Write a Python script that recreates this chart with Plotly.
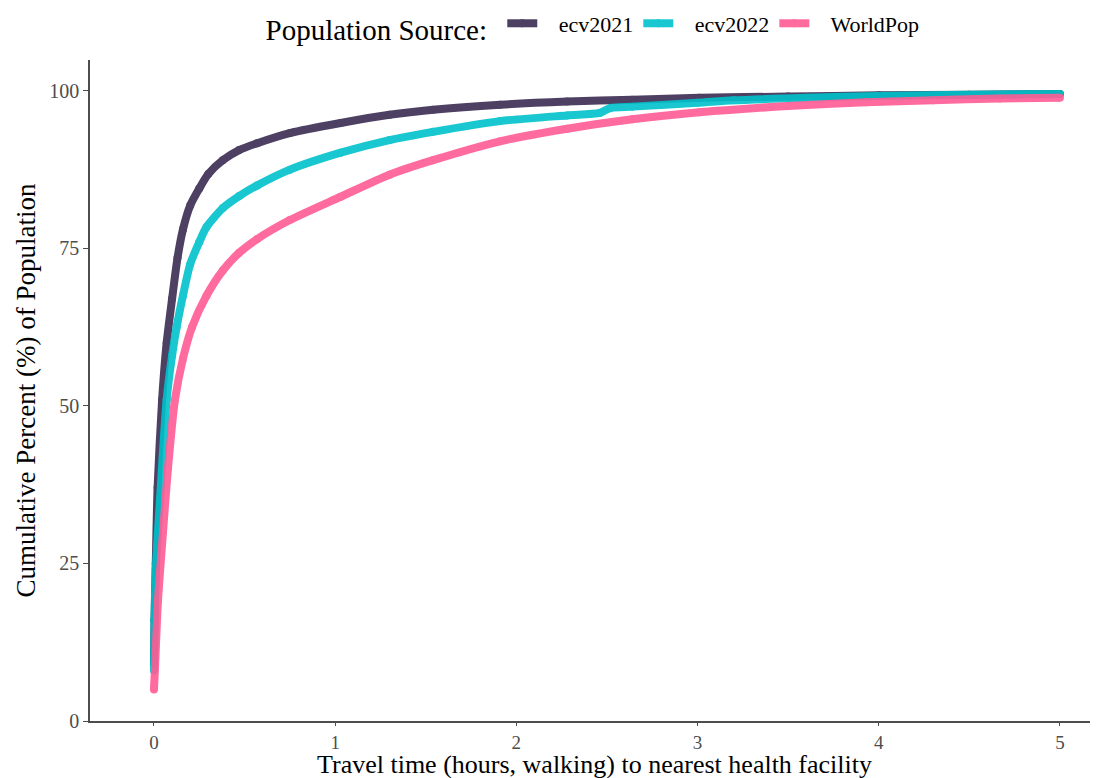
import plotly.graph_objects as go

# Travel time (hours) and cumulative percent of population
ecv2021_hours = [0, 0.003, 0.01, 0.02, 0.045, 0.07, 0.1, 0.13, 0.16, 0.2, 0.25, 0.3, 0.38, 0.47,
                 0.57, 0.75, 1.03, 1.3, 1.54, 1.91, 2.28, 2.64, 3.01, 3.5, 4.0, 4.5, 5.0]
ecv2021_pct = [9, 16, 25, 37, 51, 60, 67, 73.5, 78, 81.8, 84.5, 86.8, 89, 90.6,
               91.7, 93.3, 94.9, 96.2, 97.0, 97.8, 98.3, 98.6, 98.9, 99.1, 99.3, 99.4, 99.5]

ecv2022_hours = [0, 0.003, 0.01, 0.033, 0.07, 0.1, 0.125, 0.16, 0.2, 0.25, 0.29, 0.38, 0.47, 0.57,
                 0.75, 1.03, 1.3, 1.54, 1.91, 2.28, 2.46, 2.52, 2.64, 3.0, 3.2, 3.6, 4.0, 4.5, 5.0]
ecv2022_pct = [8, 16, 24, 35, 51, 58, 62.5, 67.5, 72.5, 76, 78.4, 81.4, 83.3, 85.0,
               87.5, 90.2, 92.2, 93.5, 95.2, 96.1, 96.5, 97.3, 97.5, 98.1, 98.5, 98.9, 99.2, 99.4, 99.5]

worldpop_hours = [0, 0.006, 0.022, 0.05, 0.077, 0.116, 0.16, 0.21, 0.29, 0.38, 0.47, 0.57, 0.75,
                  1.03, 1.3, 1.54, 1.91, 2.28, 2.64, 3.01, 3.5, 3.93, 4.3, 4.67, 5.0]
worldpop_pct = [5, 8.6, 19, 30, 40, 51, 57.5, 62.5, 67.5, 71.5, 74.3, 76.5, 79.5,
                83.2, 86.7, 89, 92.0, 94.0, 95.5, 96.6, 97.6, 98.2, 98.5, 98.8, 98.9]

series_names = ["ecv2021", "ecv2022", "WorldPop"]
series_colors = ["#3A2C52", "#00C2CB", "#FF5C94"]

x_ticks = [0, 1, 2, 3, 4, 5]
y_ticks = [0, 25, 50, 75, 100]

FONT = "Liberation Serif"

fig = go.Figure()
for name, color, xs, ys in zip(series_names, series_colors,
                               [ecv2021_hours, ecv2022_hours, worldpop_hours],
                               [ecv2021_pct, ecv2022_pct, worldpop_pct]):
    fig.add_trace(go.Scatter(
        x=xs, y=ys, name="   " + name, mode="lines+markers",
        line=dict(color=color, width=8, shape="spline", smoothing=0.7),
        marker=dict(color=color, size=8),
        opacity=0.9,
    ))

axis_common = dict(
    showgrid=False, zeroline=False, showline=True, linecolor="#4D4D4D", linewidth=1.5,
    ticks="outside", tickcolor="#4D4D4D", tickwidth=1,
    mirror=False, automargin=False,
)

# The page adds an 8px body margin, so the figure is sized/positioned to compensate.
fig.update_layout(
    width=1090, height=770,
    margin=dict(l=82, r=0, t=52, b=57),
    paper_bgcolor="white", plot_bgcolor="white",
    font=dict(family=FONT, color="black"),
    xaxis=dict(range=[-0.353, 5.21], tickvals=x_ticks, ticklen=3,
               tickfont=dict(family=FONT, size=19, color="#4D4D4D"), **axis_common),
    yaxis=dict(range=[0, 104.9], tickvals=y_ticks, ticklen=5,
               tickfont=dict(family=FONT, size=20, color="#4D4D4D"),
               title=dict(text="Cumulative Percent (%) of Population",
                          font=dict(family=FONT, size=27, color="black"), standoff=6),
               **axis_common),
    legend=dict(
        orientation="h", x=0.5, xanchor="center", y=0.976, yref="container", yanchor="middle",
        title=dict(text="Population Source: ", font=dict(family=FONT, size=29, color="black")),
        font=dict(family=FONT, size=22, color="black"),
        itemwidth=30,
    ),
    annotations=[dict(
        text="Travel time (hours, walking) to nearest health facility",
        xref="paper", yref="paper", x=0.5, xanchor="center",
        y=-0.066, yanchor="middle", showarrow=False,
        font=dict(family=FONT, size=26, color="black"),
    )],
    showlegend=True,
)

fig.write_html("out.html")
